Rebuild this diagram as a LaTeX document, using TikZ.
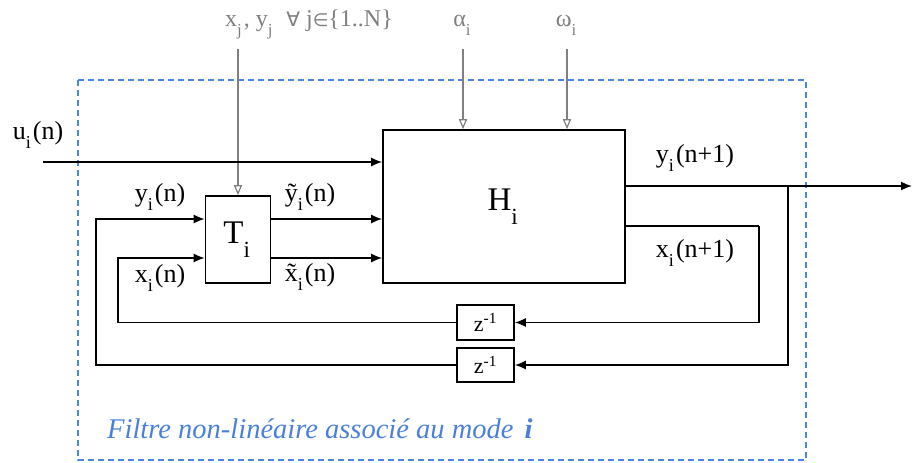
\documentclass[tikz,border=0pt]{standalone}
\usepackage{fontspec}
\setmainfont{Liberation Serif}
\newfontfamily\symfont{DejaVu Sans}
\usetikzlibrary{arrows.meta}
\usepackage{xcolor}
\definecolor{frameblue}{HTML}{4A86E8}
\definecolor{textblue}{HTML}{4A7FDB}
\definecolor{ingray}{HTML}{7F7F7F}
\newcommand{\idx}[1]{\raisebox{-0.22em}{\textsubscript{#1}}\kern0.06em}

\tikzset{
  blk/.style={draw, line width=1.6pt, fill=white, inner sep=0pt},
  sig/.style={line width=1.6pt, -{Latex[length=11pt,width=9pt]}},
  wire/.style={line width=1.6pt},
  gin/.style={draw=ingray, line width=1.2pt, -{Triangle[open,length=10pt,width=8pt]}},
  lab/.style={font=\fontsize{26}{30}\selectfont, inner sep=0pt},
  inlab/.style={font=\fontsize{24}{28}\selectfont, text=ingray, inner sep=0pt},
}

\begin{document}
\begin{tikzpicture}[x=1pt,y=-1pt]
  \useasboundingbox (0,0) rectangle (913,463);

  % frame of the filter
  \draw[frameblue, line width=1.2pt, dash pattern=on 6pt off 4pt] (78,80) rectangle (806,460);
  \node[font=\fontsize{28.5}{32}\selectfont\itshape, text=textblue, anchor=base west, inner sep=0pt] (cap) at (107,438)
    {Filtre non-linéaire associé au mode\hspace{11pt}\textbf{i}};

  % blocks
  \node[blk, minimum width=242pt, minimum height=153pt, font=\fontsize{33}{36}\selectfont] (H) at (504,206.5) {H\idx{i}};
  \node[blk, minimum width=65pt, minimum height=87pt, font=\fontsize{33}{36}\selectfont] (T) at (238,239.5) {T\idx{i}};
  \node[blk, minimum width=57pt, minimum height=35pt, font=\fontsize{22}{24}\selectfont] (z1) at (485.5,322.5) {z\textsuperscript{-1}};
  \node[blk, minimum width=57pt, minimum height=34pt, font=\fontsize{22}{24}\selectfont] (z2) at (485.5,365) {z\textsuperscript{-1}};

  % inputs from outside
  \node[inlab, anchor=base] (xy) at (309,26) {x\idx{j}, y\idx{j}\enspace{\symfont\fontsize{20}{24}\selectfont ∀}\ j{\symfont\fontsize{18}{24}\selectfont ∈}\{1..N\}};
  \node[inlab, anchor=base] (al) at (463,26) {α\idx{i}};
  \node[inlab, anchor=base] (om) at (567,26) {ω\idx{i}};
  \coordinate (xytop) at (238,49);
  \coordinate (altop) at (463,49);
  \coordinate (omtop) at (567,49);
  \draw[gin] (xytop) -- (T.north);
  \draw[gin] (altop) -- (altop |- H.north);
  \draw[gin] (omtop) -- (omtop |- H.north);

  % signals
  \coordinate (uin) at (43,162);
  \coordinate (yin) at (96,219);
  \coordinate (xin) at (118,258);
  \coordinate (yout) at (912,186);
  \coordinate (ybr) at (788,186);
  \coordinate (xbr) at (759,226);
  \node[lab] (ulab) at (38,135) {u\idx{i}(n)};
  \draw[sig] (uin) -- (uin -| H.west);
  \draw[sig] (T.east |- yin) -- (H.west |- yin);
  \draw[sig] (T.east |- xin) -- (H.west |- xin);
  \node[lab] (ytl) at (310,197) {ỹ\idx{i}(n)};
  \node[lab] (xtl) at (310,277) {x̃\idx{i}(n)};

  % outputs and feedback
  \draw[sig] (H.east |- yout) -- (yout);
  \node[lab] (ylab) at (695,158) {y\idx{i}(n+1)};
  \draw[wire] (H.east |- xbr) -- (xbr);
  \node[lab] (xlab) at (695,253) {x\idx{i}(n+1)};
  \draw[sig] (xbr) |- (z1.east);
  \draw[sig] (ybr) |- (z2.east);
  \draw[sig] (z1.west) -| (xin) -- (T.west |- xin);
  \draw[sig] (z2.west) -| (yin) -- (T.west |- yin);
  \node[lab] (yinl) at (160,197) {y\idx{i}(n)};
  \node[lab] (xinl) at (160,278) {x\idx{i}(n)};
\end{tikzpicture}
\end{document}
